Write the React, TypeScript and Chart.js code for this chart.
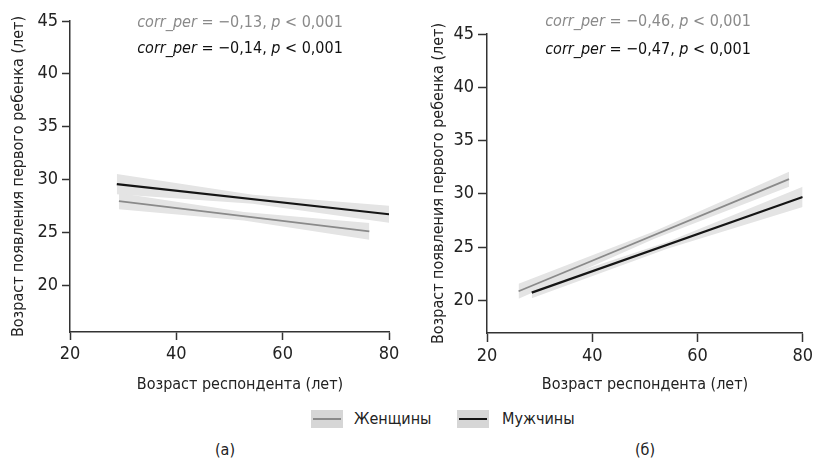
import React, { useEffect, useRef } from "react";
import { Chart, registerables } from "chart.js";

Chart.register(...registerables);

const FONT = '"DejaVu Sans Condensed", "Liberation Sans Narrow", sans-serif';
const TEXT_SIZE = 16;
const TICK_SIZE = 18;

// ---- data ----
const ageTicks = [20, 40, 60, 80];
const yTicks = [20, 25, 30, 35, 40, 45];
const seriesNames = ["Женщины", "Мужчины"];
const panelCaptions = ["(а)", "(б)"];
const xTitle = "Возраст респондента (лет)";
const yTitle = "Возраст появления первого ребенка (лет)";
const corrWomen = ["−0,13", "−0,46"];
const corrMen = ["−0,14", "−0,47"];
const pText = "< 0,001";

// panel (а)
const aWomenAge = [29.2, 76.3];
const aWomenFit = [27.95, 25.08];
const aWomenBandAge = [29.2, 52.7, 76.3];
const aWomenLow = [27.18, 26.12, 24.28];
const aWomenHigh = [28.72, 26.92, 25.88];
const aMenAge = [28.8, 80];
const aMenFit = [29.55, 26.7];
const aMenBandAge = [28.8, 54.4, 80];
const aMenLow = [28.6, 27.7, 25.9];
const aMenHigh = [30.5, 28.55, 27.5];

// panel (б)
const bWomenAge = [26.0, 77.4];
const bWomenFit = [20.85, 31.37];
const bWomenBandAge = [26.0, 51.7, 77.4];
const bWomenLow = [20.15, 25.75, 30.67];
const bWomenHigh = [21.55, 26.47, 32.07];
const bMenAge = [28.5, 80];
const bMenFit = [20.72, 29.7];
const bMenBandAge = [28.5, 54.25, 80];
const bMenLow = [20.2, 24.85, 28.75];
const bMenHigh = [21.25, 25.47, 30.65];

const WOMEN_COLOR = "#8a8a8a";
const MEN_COLOR = "#151515";
const BAND_COLOR = "#e4e4e4";
const TEXT_COLOR = "#222222";

const pts = (xs: number[], ys: number[]) => xs.map((x, i) => ({ x, y: ys[i] }));

const textPlugin = {
  id: "panelTexts",
  afterDraw(chart: any, _args: any, opts: any) {
    const ctx = chart.ctx as CanvasRenderingContext2D;
    ctx.save();
    ctx.textBaseline = "middle";
    ctx.textAlign = "left";
    for (const line of opts.lines || []) {
      const widths: number[] = [];
      let total = 0;
      for (const s of line.segs) {
        ctx.font = `${s.italic ? "italic " : ""}${opts.size}px ${FONT}`;
        const w = ctx.measureText(s.text).width;
        widths.push(w);
        total += w;
      }
      let x = line.x - total / 2;
      ctx.fillStyle = line.color;
      line.segs.forEach((s: any, i: number) => {
        ctx.font = `${s.italic ? "italic " : ""}${opts.size}px ${FONT}`;
        ctx.fillText(s.text, x, line.y);
        x += widths[i];
      });
    }
    ctx.restore();
  },
};

const corrSegs = (val: string) => [
  { text: "corr_per", italic: true },
  { text: ` = ${val}, `, italic: false },
  { text: "p", italic: true },
  { text: ` ${pText}`, italic: false },
];

type Series = { age: number[]; fit: number[]; bandAge: number[]; low: number[]; high: number[] };
type PanelCfg = {
  width: number;
  height: number;
  yMin: number;
  yMax: number;
  padding: { left: number; top: number; right: number; bottom: number };
  yWidth: number;
  xHeight: number;
  tickLen: number;
  yTitlePad: number;
  women: Series;
  men: Series;
  idx: number;
  annX: number;
  annY: [number, number];
  xTitleX: number;
  xTitleY: number;
};

function Panel({ cfg }: { cfg: PanelCfg }) {
  const ref = useRef<HTMLCanvasElement | null>(null);
  useEffect(() => {
    if (!ref.current) return;
    const c = cfg;
    const bandDs = (label: string, data: any, fill: any) => ({
      label,
      data,
      showLine: true,
      borderWidth: 0,
      borderColor: "rgba(0,0,0,0)",
      backgroundColor: BAND_COLOR,
      pointRadius: 0,
      fill,
    });
    const chart = new Chart(ref.current, {
      type: "scatter",
      data: {
        datasets: [
          {
            label: seriesNames[1],
            data: pts(c.men.age, c.men.fit),
            showLine: true,
            borderColor: MEN_COLOR,
            borderWidth: 2.2,
            pointRadius: 0,
            fill: false,
          },
          {
            label: seriesNames[0],
            data: pts(c.women.age, c.women.fit),
            showLine: true,
            borderColor: WOMEN_COLOR,
            borderWidth: 1.8,
            pointRadius: 0,
            fill: false,
          },
          bandDs("men-high", pts(c.men.bandAge, c.men.high), 3),
          bandDs("men-low", pts(c.men.bandAge, c.men.low), false),
          bandDs("women-high", pts(c.women.bandAge, c.women.high), 5),
          bandDs("women-low", pts(c.women.bandAge, c.women.low), false),
        ] as any,
      },
      options: {
        responsive: false,
        animation: false,
        devicePixelRatio: 1,
        layout: { padding: c.padding },
        plugins: {
          legend: { display: false },
          tooltip: { enabled: false },
          panelTexts: {
            size: TEXT_SIZE,
            lines: [
              { x: c.annX, y: c.annY[0], color: WOMEN_COLOR, segs: corrSegs(corrWomen[c.idx]) },
              { x: c.annX, y: c.annY[1], color: "#111111", segs: corrSegs(corrMen[c.idx]) },
              { x: c.xTitleX, y: c.xTitleY, color: TEXT_COLOR, segs: [{ text: xTitle, italic: false }] },
            ],
          },
        } as any,
        scales: {
          x: {
            type: "linear",
            min: 20,
            max: 80,
            afterBuildTicks: (s: any) => {
              s.ticks = ageTicks.map((v) => ({ value: v }));
            },
            afterFit: (s: any) => {
              s.height = c.xHeight;
            },
            ticks: { color: TEXT_COLOR, font: { size: TICK_SIZE, family: FONT }, padding: 4, maxRotation: 0 },
            grid: { drawOnChartArea: false, drawTicks: true, tickLength: c.tickLen, tickColor: "#333", tickWidth: 1.5 },
            border: { display: true, color: "#333", width: 1.5 },
            title: { display: false },
          },
          y: {
            type: "linear",
            min: c.yMin,
            max: c.yMax,
            afterBuildTicks: (s: any) => {
              s.ticks = yTicks.map((v) => ({ value: v }));
            },
            afterFit: (s: any) => {
              s.width = c.yWidth;
            },
            ticks: { color: TEXT_COLOR, font: { size: TICK_SIZE, family: FONT }, padding: 4 },
            grid: { drawOnChartArea: false, drawTicks: true, tickLength: c.tickLen, tickColor: "#333", tickWidth: 1.5 },
            border: { display: true, color: "#333", width: 1.5 },
            title: {
              display: true,
              text: yTitle,
              color: TEXT_COLOR,
              font: { size: TEXT_SIZE, family: FONT },
              padding: { top: c.yTitlePad, bottom: 0 },
            },
          },
        },
      },
      plugins: [textPlugin as any],
    });
    return () => chart.destroy();
  }, [cfg]);
  return <canvas ref={ref} width={cfg.width} height={cfg.height} style={{ display: "block" }} />;
}

const panelA: PanelCfg = {
  width: 410,
  height: 400,
  yMin: 15.55,
  yMax: 45,
  padding: { left: 0, top: 21, right: 21, bottom: 0 },
  yWidth: 70,
  xHeight: 68,
  tickLen: 8,
  yTitlePad: 9,
  women: { age: aWomenAge, fit: aWomenFit, bandAge: aWomenBandAge, low: aWomenLow, high: aWomenHigh },
  men: { age: aMenAge, fit: aMenFit, bandAge: aMenBandAge, low: aMenLow, high: aMenHigh },
  idx: 0,
  annX: 240,
  annY: [23, 49],
  xTitleX: 240,
  xTitleY: 385,
};

const panelB: PanelCfg = {
  width: 407,
  height: 400,
  yMin: 16.93,
  yMax: 45,
  padding: { left: 0, top: 34, right: 11, bottom: 0 },
  yWidth: 77,
  xHeight: 67,
  tickLen: 9,
  yTitlePad: 19,
  women: { age: bWomenAge, fit: bWomenFit, bandAge: bWomenBandAge, low: bWomenLow, high: bWomenHigh },
  men: { age: bMenAge, fit: bMenFit, bandAge: bMenBandAge, low: bMenLow, high: bMenHigh },
  idx: 1,
  annX: 238,
  annY: [21.5, 49.5],
  xTitleX: 235,
  xTitleY: 385,
};

function LegendKey({ color, width }: { color: string; width: number }) {
  return (
    <div style={{ width: 32, height: 18, background: "#d6d6d6", position: "relative" }}>
      <div
        style={{
          position: "absolute",
          left: 2,
          right: 2,
          top: 9 - width / 2,
          height: width,
          background: color,
        }}
      />
    </div>
  );
}

export default function App() {
  useEffect(() => {
    document.body.style.margin = "0";
  }, []);
  const textStyle: React.CSSProperties = {
    position: "absolute",
    fontFamily: FONT,
    fontSize: TEXT_SIZE,
    color: TEXT_COLOR,
    lineHeight: "20px",
    whiteSpace: "nowrap",
  };
  return (
    <div style={{ position: "absolute", left: 0, top: 0, width: 817, height: 459, background: "#fff", overflow: "hidden" }}>
      <div style={{ position: "absolute", left: 0, top: 0 }}>
        <Panel cfg={panelA} />
      </div>
      <div style={{ position: "absolute", left: 410, top: 0 }}>
        <Panel cfg={panelB} />
      </div>
      <div style={{ position: "absolute", left: 311, top: 410 }}>
        <LegendKey color={WOMEN_COLOR} width={1.8} />
      </div>
      <div style={{ ...textStyle, left: 354, top: 409 }}>{seriesNames[0]}</div>
      <div style={{ position: "absolute", left: 457, top: 410 }}>
        <LegendKey color={MEN_COLOR} width={2.2} />
      </div>
      <div style={{ ...textStyle, left: 502, top: 409 }}>{seriesNames[1]}</div>
      <div style={{ ...textStyle, left: 225, top: 440, transform: "translateX(-50%)" }}>{panelCaptions[0]}</div>
      <div style={{ ...textStyle, left: 645, top: 440, transform: "translateX(-50%)" }}>{panelCaptions[1]}</div>
    </div>
  );
}
